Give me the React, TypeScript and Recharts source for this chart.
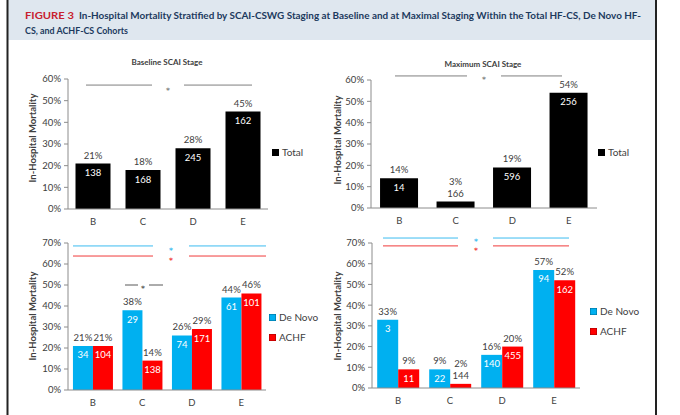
import React from 'react';
import { BarChart, Bar, XAxis, YAxis, ReferenceLine, LabelList, Legend } from 'recharts';

// ---------- data ----------
const stages = ['B', 'C', 'D', 'E'];
const baselineTotalPct = [21, 18, 28, 45];
const baselineTotalN = [138, 168, 245, 162];
const maximumTotalPct = [14, 3, 19, 54];
const maximumTotalN = [14, 166, 596, 256];
const baselineDeNovoPct = [21, 38, 26, 44];
const baselineDeNovoN = [34, 29, 74, 61];
const baselineAchfPct = [21, 14, 29, 46];
const baselineAchfN = [104, 138, 171, 101];
const maximumDeNovoPct = [33, 9, 16, 57];
const maximumDeNovoN = [3, 22, 140, 94];
const maximumAchfPct = [9, 2, 20, 52];
const maximumAchfN = [11, 144, 455, 162];
const ticks60 = [0, 10, 20, 30, 40, 50, 60];
const ticks70 = [0, 10, 20, 30, 40, 50, 60, 70];
const seriesTotal = 'Total';
const seriesDeNovo = 'De Novo';
const seriesAchf = 'ACHF';
const seriesOrder = [seriesTotal, seriesDeNovo, seriesAchf];
const panelTitles = ['Baseline SCAI Stage', 'Maximum SCAI Stage'];
const yAxisTitle = 'In-Hospital Mortality';
const figureLabel = 'FIGURE 3';
const titleLine1 = 'In-Hospital Mortality Stratified by SCAI-CSWG Staging at Baseline and at Maximal Staging Within the Total HF-CS, De Novo HF-';
const titleLine2 = 'CS, and ACHF-CS Cohorts';

const totalRows = (pct: number[], n: number[]) =>
  stages.map((stage, i) => ({ stage, total: pct[i], totalN: n[i] }));
const cohortRows = (dp: number[], dn: number[], ap: number[], an: number[]) =>
  stages.map((stage, i) => ({ stage, deNovo: dp[i], deNovoN: dn[i], achf: ap[i], achfN: an[i] }));

// ---------- styles ----------
const FONT = 'Lato, "Open Sans", sans-serif';
const STAR_FONT = '"DejaVu Sans", sans-serif';
const BLACK = '#000000';
const BLUE = '#00b0f0';
const RED = '#ff0000';
const AXIS = '#8c8c8c';
const TEXT = '#404040';

const num = (v: any) => (typeof v === 'number' ? v : parseFloat(v) || 0);

const PctLabel = (props: any) => {
  const x = num(props.x), y = num(props.y), w = num(props.width), h = num(props.height);
  const small = h < 12;
  return (
    <text x={x + w / 2} y={small ? y - 16.5 : y - 5} textAnchor="middle" fontSize={9.5} fill={TEXT} fontFamily={FONT}>
      {props.value}%
    </text>
  );
};

const CountLabel = (props: any) => {
  const x = num(props.x), y = num(props.y), w = num(props.width), h = num(props.height);
  const small = h < 12;
  return (
    <text x={x + w / 2} y={small ? y - 4.5 : y + 12.5} textAnchor="middle" fontSize={9.5} fill={small ? TEXT : '#ffffff'} fontFamily={FONT}>
      {props.value}
    </text>
  );
};

const LegendContent = (props: any) => {
  const payload = [...(props.payload || [])].sort(
    (a: any, b: any) => seriesOrder.indexOf(a.value) - seriesOrder.indexOf(b.value)
  );
  return (
    <div style={{ fontFamily: FONT }}>
      {payload.map((p: any) => (
        <div key={p.value} style={{ display: 'flex', alignItems: 'center', height: 20 }}>
          <span style={{ display: 'inline-block', width: 7, height: 7, background: p.color, marginRight: 3, boxShadow: 'inset 0 0 0 0.5px rgba(0,0,0,0.4)' }} />
          <span style={{ fontSize: 10, color: TEXT, lineHeight: '20px' }}>{p.value}</span>
        </div>
      ))}
    </div>
  );
};

type Ref = { y: number; color: string; dash: string; starX: number; starDy: number };

function Panel(p: {
  box: { left: number; top: number; width: number; height: number };
  plot: { x0: number; x1: number; y0: number; y1: number };
  max: number;
  ticks: number[];
  data: any[];
  bars: { key: string; nKey: string; name: string; color: string }[];
  refs: Ref[];
  legend: { x: number; y: number };
  ylabel: { x: number; y: number };
  gap: string;
}) {
  const { box, plot } = p;
  const xAxisH = 16;
  const margin = {
    top: plot.y0 - box.top,
    left: 0,
    right: box.left + box.width - plot.x1,
    bottom: box.top + box.height - plot.y1 - xAxisH,
  };
  const lx = p.ylabel.x - box.left;
  const ly = p.ylabel.y - box.top;
  return (
    <div style={{ position: 'absolute', left: box.left, top: box.top }}>
      <BarChart width={box.width} height={box.height} data={p.data} margin={margin} barCategoryGap={p.gap} barGap={0}>
        <XAxis
          dataKey="stage"
          height={xAxisH}
          tickSize={0}
          tickMargin={9.5}
          axisLine={{ stroke: AXIS }}
          tickLine={false}
          tick={{ fontSize: 9.5, fill: TEXT, fontFamily: FONT }}
        />
        <YAxis
          width={plot.x0 - box.left}
          domain={[0, p.max]}
          ticks={p.ticks}
          interval={0}
          tickFormatter={(v: number) => `${v}%`}
          tickSize={4}
          tickMargin={3}
          axisLine={{ stroke: AXIS }}
          tickLine={{ stroke: AXIS }}
          tick={{ fontSize: 9.5, fill: TEXT, fontFamily: FONT }}
          label={() => (
            <text
              transform={`translate(${lx},${ly}) rotate(-90)`}
              textAnchor="middle"
              dominantBaseline="central"
              fontSize={9.5}
              fontWeight={700}
              fill={TEXT}
              fontFamily={FONT}
            >
              {yAxisTitle}
            </text>
          )}
        />
        {p.refs.map((r, i) => (
          <ReferenceLine
            key={i}
            y={r.y}
            stroke={r.color}
            strokeWidth={1}
            strokeDasharray={r.dash}
            ifOverflow="visible"
            label={(lp: any) => {
              const vb = lp.viewBox || {};
              return (
                <text x={num(vb.x) + r.starX} y={num(vb.y) + r.starDy} textAnchor="middle" fontSize={7.5} fontWeight={700} fill={r.color} fontFamily={STAR_FONT}>
                  *
                </text>
              );
            }}
          />
        ))}
        {p.bars.map((b) => (
          <Bar key={b.key} dataKey={b.key} name={b.name} fill={b.color} isAnimationActive={false}>
            <LabelList dataKey={b.key} content={PctLabel} />
            <LabelList dataKey={b.nKey} content={CountLabel} />
          </Bar>
        ))}
        <Legend
          layout="vertical"
          align="center"
          verticalAlign="middle"
          wrapperStyle={{ left: p.legend.x - box.left, top: p.legend.y - box.top, width: 80 }}
          content={LegendContent}
        />
      </BarChart>
    </div>
  );
}

export default function App() {
  const totalBars = [{ key: 'total', nKey: 'totalN', name: seriesTotal, color: BLACK }];
  const cohortBars = [
    { key: 'deNovo', nKey: 'deNovoN', name: seriesDeNovo, color: BLUE },
    { key: 'achf', nKey: 'achfN', name: seriesAchf, color: RED },
  ];
  return (
    <div style={{ position: 'absolute', left: 0, top: 0, width: 680, height: 415, background: '#fff', overflow: 'hidden', fontFamily: FONT }}>
      <svg width={680} height={415} style={{ position: 'absolute', left: 0, top: 0 }}>
        <rect x={8} y={0} width={648} height={40} fill="#dfe7ef" />
        <text x={25} y={19} fontSize={10} fontWeight={700} fill="#c8202e" fontFamily={FONT} textLength={49} lengthAdjust="spacingAndGlyphs">
          {figureLabel}
        </text>
        <text x={79} y={19} fontSize={10} fontWeight={700} fill="#1c3a5e" fontFamily={FONT} textLength={562} lengthAdjust="spacingAndGlyphs">
          {titleLine1}
        </text>
        <text x={25} y={34} fontSize={10} fontWeight={700} fill="#1c3a5e" fontFamily={FONT} textLength={103} lengthAdjust="spacingAndGlyphs">
          {titleLine2}
        </text>
        <line x1={7.5} y1={0} x2={7.5} y2={415} stroke="#222" strokeWidth={2} />
        <line x1={656} y1={0} x2={656} y2={415} stroke="#222" strokeWidth={2} />
        <text x={167} y={65} textAnchor="middle" fontSize={8} fontWeight={700} fill={TEXT} fontFamily={FONT}>
          {panelTitles[0]}
        </text>
        <text x={483} y={67} textAnchor="middle" fontSize={8} fontWeight={700} fill={TEXT} fontFamily={FONT}>
          {panelTitles[1]}
        </text>
      </svg>

      <Panel
        box={{ left: 0, top: 70, width: 340, height: 160 }}
        plot={{ x0: 68, x1: 268, y0: 79, y1: 209 }}
        max={60}
        ticks={ticks60}
        data={totalRows(baselineTotalPct, baselineTotalN)}
        bars={totalBars}
        gap="15%"
        refs={[{ y: 57.2, color: '#7f7f7f', dash: '0 18 66 32 68 1000', starX: 100, starDy: 7.5 }]}
        legend={{ x: 272, y: 142 }}
        ylabel={{ x: 32, y: 138 }}
      />
      <Panel
        box={{ left: 330, top: 70, width: 350, height: 160 }}
        plot={{ x0: 371, x1: 597, y0: 80, y1: 208 }}
        max={60}
        ticks={ticks60}
        data={totalRows(maximumTotalPct, maximumTotalN)}
        bars={totalBars}
        gap="16%"
        refs={[{ y: 61.9, color: '#7f7f7f', dash: '0 24 72 34 61 1000', starX: 113, starDy: 6.5 }]}
        legend={{ x: 598, y: 142 }}
        ylabel={{ x: 337, y: 140 }}
      />
      <Panel
        box={{ left: 0, top: 232, width: 340, height: 183 }}
        plot={{ x0: 68, x1: 266, y0: 243, y1: 390 }}
        max={70}
        ticks={ticks70}
        data={cohortRows(baselineDeNovoPct, baselineDeNovoN, baselineAchfPct, baselineAchfN)}
        bars={cohortBars}
        gap="10%"
        refs={[
          { y: 68.6, color: '#3cbcf0', dash: '0 5 80 36 200', starX: 103, starDy: 7 },
          { y: 63.8, color: '#f03a3a', dash: '0 5 80 36 200', starX: 103, starDy: 6.5 },
          { y: 50, color: '#595959', dash: '0 57 13 11 14 1000', starX: 75, starDy: 5.5 },
        ]}
        legend={{ x: 269, y: 307 }}
        ylabel={{ x: 32, y: 316 }}
      />
      <Panel
        box={{ left: 330, top: 232, width: 350, height: 183 }}
        plot={{ x0: 372, x1: 580, y0: 243, y1: 388 }}
        max={70}
        ticks={ticks70}
        data={cohortRows(maximumDeNovoPct, maximumDeNovoN, maximumAchfPct, maximumAchfN)}
        bars={cohortBars}
        gap="10%"
        refs={[
          { y: 72.4, color: '#3cbcf0', dash: '0 11 75 35 76 1000', starX: 104, starDy: 6 },
          { y: 68.6, color: '#f03a3a', dash: '0 11 75 35 76 1000', starX: 104, starDy: 7 },
        ]}
        legend={{ x: 590, y: 301 }}
        ylabel={{ x: 337, y: 316 }}
      />
    </div>
  );
}
